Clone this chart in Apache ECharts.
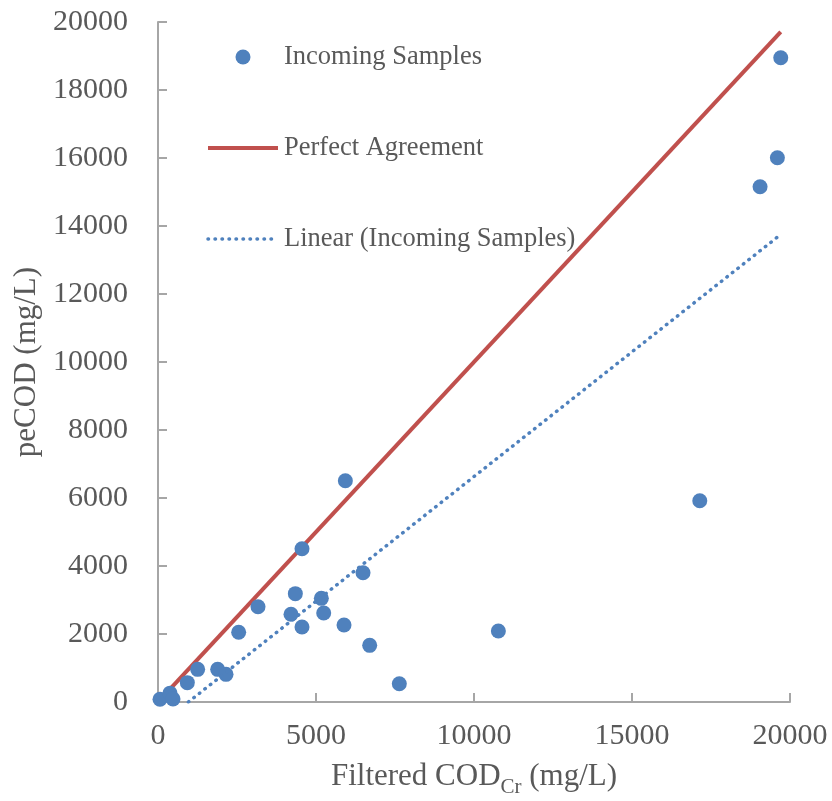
<!DOCTYPE html>
<html>
<head>
<meta charset="utf-8">
<script src="https://cdn.jsdelivr.net/npm/echarts@6/dist/echarts.min.js"></script>
<style>
  html, body { margin: 0; padding: 0; background: #ffffff; }
  #chart { width: 832px; height: 801px; }
</style>
</head>
<body>
<div id="chart"></div>
<script>
// Filtered COD_Cr (mg/L) vs. peCOD (mg/L) for incoming samples
const filteredCod = [63, 380, 475, 928, 1255, 1888, 2152, 2553, 3165, 4209, 4346, 4557, 5169,
  5244, 5887, 6488, 6699, 7637, 5929, 4557, 10771, 17145, 19707, 19601, 19053];
const peCod = [79, 260, 90, 569, 961, 961, 814, 2050, 2803, 2579, 3186, 2206, 3049,
  2618, 2265, 3803, 1667, 538, 6509, 4509, 2088, 5921, 18949, 16008, 15155];

// 1:1 reference line end points (x = y)
const agreementX = [63, 19707];

// Linear trend line of the incoming samples (end points)
const trendX = [961, 19707];
const trendY = [0, 13750];

// Axis ranges: [min, max, interval]
const xRange = [0, 20000, 5000];
const yRange = [0, 20000, 2000];

const seriesNames = ['Incoming Samples', 'Perfect Agreement', 'Linear (Incoming Samples)'];

const FONT = '"Liberation Serif", "Times New Roman", serif';
const TEXT = '#595959';
const AXIS = '#a6a6a6';
const BLUE = '#4f81bd';
const RED = '#c0504d';

const samples = filteredCod.map((x, i) => [x, peCod[i]]);
const agreement = agreementX.map(v => [v, v]);
const trend = trendX.map((x, i) => [x, trendY[i]]);

const redLine = { color: RED, width: 4 };
const dottedLine = { color: BLUE, width: 3.5, type: [0.5, 6.5], cap: 'round' };

const axisCommon = {
  type: 'value',
  splitLine: { show: false },
  axisLine: { show: true, lineStyle: { color: AXIS, width: 2 } },
  axisTick: { show: true, inside: true, length: 9, lineStyle: { color: AXIS, width: 2 } }
};

const chart = echarts.init(document.getElementById('chart'), null, { renderer: 'canvas' });
chart.setOption({
  animation: false,
  backgroundColor: '#ffffff',
  grid: { left: 158, right: 42, top: 22, bottom: 99, containLabel: false, outerBoundsMode: 'none' },
  legend: {
    orient: 'vertical',
    left: 201,
    top: 37,
    itemWidth: 70,
    itemHeight: 15,
    itemGap: 61,
    symbolKeepAspect: true,
    textStyle: { fontFamily: FONT, fontSize: 26.5, color: TEXT, lineHeight: 30, padding: [0, 0, 0, 1] },
    data: [
      { name: seriesNames[0], icon: 'circle' },
      { name: seriesNames[1], itemStyle: { opacity: 0 }, lineStyle: redLine },
      { name: seriesNames[2], itemStyle: { opacity: 0 }, lineStyle: dottedLine }
    ]
  },
  xAxis: Object.assign({}, axisCommon, {
    min: xRange[0], max: xRange[1], interval: xRange[2],
    name: '{m|Filtered COD}{s|Cr}{m| (mg/L)}',
    nameLocation: 'middle',
    nameGap: 56,
    nameTextStyle: {
      fontFamily: FONT, color: TEXT,
      rich: {
        m: { fontFamily: FONT, fontSize: 31, color: TEXT, lineHeight: 34, verticalAlign: 'bottom' },
        s: { fontFamily: FONT, fontSize: 21, color: TEXT, lineHeight: 34, verticalAlign: 'bottom', padding: [0, 0, -6, 0] }
      }
    },
    axisLabel: { fontFamily: FONT, fontSize: 30, color: TEXT, margin: 19, formatter: v => String(v) }
  }),
  yAxis: Object.assign({}, axisCommon, {
    min: yRange[0], max: yRange[1], interval: yRange[2],
    name: 'peCOD (mg/L)',
    nameLocation: 'middle',
    nameRotate: 90,
    nameGap: 114,
    nameTextStyle: { fontFamily: FONT, fontSize: 31, color: TEXT },
    axisLabel: { fontFamily: FONT, fontSize: 30, color: TEXT, margin: 30, formatter: v => String(v) }
  }),
  series: [
    {
      name: seriesNames[1],
      type: 'line',
      data: agreement,
      symbol: 'none',
      z: 2,
      lineStyle: redLine,
      itemStyle: { color: RED }
    },
    {
      name: seriesNames[0],
      type: 'scatter',
      data: samples,
      symbol: 'circle',
      symbolSize: 15,
      z: 3,
      itemStyle: { color: BLUE, opacity: 1 }
    },
    {
      name: seriesNames[2],
      type: 'line',
      data: trend,
      symbol: 'none',
      clip: true,
      z: 4,
      lineStyle: dottedLine,
      itemStyle: { color: BLUE }
    }
  ]
});
</script>
</body>
</html>
